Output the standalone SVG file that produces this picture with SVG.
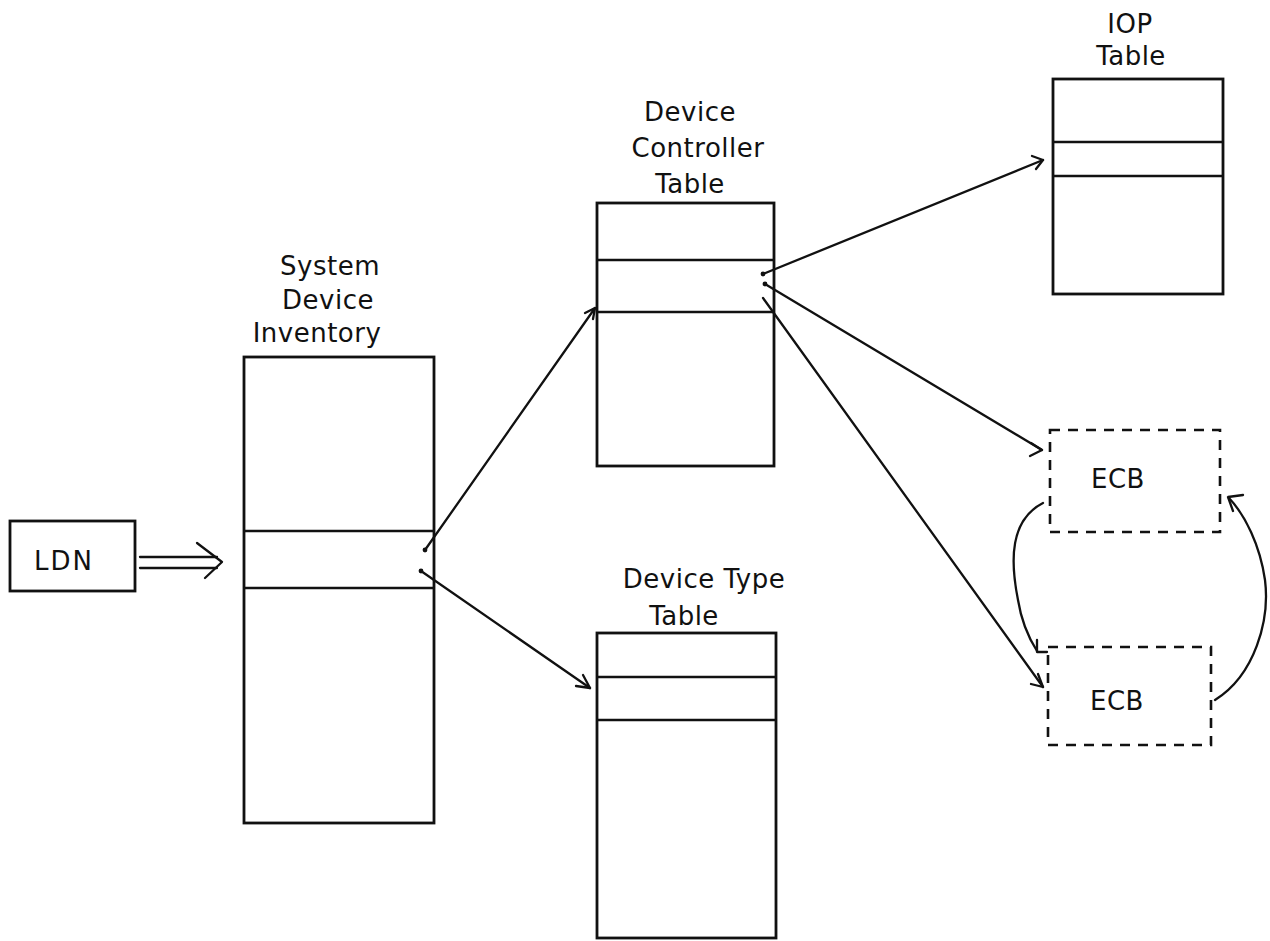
<svg xmlns="http://www.w3.org/2000/svg" width="1270" height="941" viewBox="0 0 1270 941">
  <style>
    .box { fill: none; stroke: #111; stroke-width: 2.8; }
    .row { fill: none; stroke: #111; stroke-width: 2.4; }
    .dash { fill: none; stroke: #111; stroke-width: 2.6; stroke-dasharray: 10 8; }
    .lbl { font-family: "DejaVu Sans", "Liberation Sans", sans-serif; font-size: 26px; fill: #111; text-anchor: middle; letter-spacing: 0.5px; }
    .ln { fill: none; stroke: #111; stroke-width: 2.3; stroke-linecap: round; stroke-linejoin: round; }
    .dot { fill: #111; }
  </style>
  <rect width="1270" height="941" fill="#fff"/>

  <!-- Logical device number -->
  <g id="ldn">
    <rect class="box" x="10" y="521" width="125" height="70"/>
    <text class="lbl" x="64" y="570" style="letter-spacing:2px">LDN</text>
  </g>

  <!-- System Device Inventory -->
  <g id="sdi">
    <text class="lbl" x="330" y="275">System</text>
    <text class="lbl" x="328" y="309">Device</text>
    <text class="lbl" x="317" y="342">Inventory</text>
    <rect class="box" x="244" y="357" width="190" height="466"/>
    <line class="row" x1="244" y1="531" x2="434" y2="531"/>
    <line class="row" x1="244" y1="588" x2="434" y2="588"/>
  </g>

  <!-- Device Controller Table -->
  <g id="dct">
    <text class="lbl" x="690" y="121">Device</text>
    <text class="lbl" x="698" y="157">Controller</text>
    <text class="lbl" x="690" y="193">Table</text>
    <rect class="box" x="597" y="203" width="177" height="263"/>
    <line class="row" x1="597" y1="260" x2="774" y2="260"/>
    <line class="row" x1="597" y1="312" x2="774" y2="312"/>
  </g>

  <!-- Device Type Table -->
  <g id="dtt">
    <text class="lbl" x="704" y="588">Device Type</text>
    <text class="lbl" x="684" y="625">Table</text>
    <rect class="box" x="597" y="633" width="179" height="305"/>
    <line class="row" x1="597" y1="677" x2="776" y2="677"/>
    <line class="row" x1="597" y1="720" x2="776" y2="720"/>
  </g>

  <!-- IOP Table -->
  <g id="iop">
    <text class="lbl" x="1130" y="33">IOP</text>
    <text class="lbl" x="1131" y="65">Table</text>
    <rect class="box" x="1053" y="79" width="170" height="215"/>
    <line class="row" x1="1053" y1="142" x2="1223" y2="142"/>
    <line class="row" x1="1053" y1="176" x2="1223" y2="176"/>
  </g>

  <!-- Event control blocks -->
  <g id="ecb1">
    <rect class="dash" x="1050" y="430" width="170" height="102"/>
    <text class="lbl" x="1118" y="488">ECB</text>
  </g>
  <g id="ecb2">
    <rect class="dash" x="1048" y="647" width="163" height="98"/>
    <text class="lbl" x="1117" y="710">ECB</text>
  </g>

  <!-- Pointers between tables -->
  <g id="connectors">
    <!-- LDN to inventory: double-shafted arrow -->
    <line class="ln" x1="140" y1="557" x2="217" y2="557"/>
    <line class="ln" x1="140" y1="568" x2="217" y2="568"/>
    <polyline class="ln" points="197,543 222,562 205,578"/>

    <!-- inventory entry to controller table -->
    <circle class="dot" cx="425" cy="550" r="2.4"/>
    <line class="ln" x1="425" y1="550" x2="595" y2="308"/>
    <polyline class="ln" points="585,313 595,308 593,319"/>

    <!-- inventory entry to device type table -->
    <circle class="dot" cx="421" cy="571" r="2.4"/>
    <line class="ln" x1="421" y1="571" x2="590" y2="688"/>
    <polyline class="ln" points="576,686 590,688 583,675"/>

    <!-- controller entry to IOP table -->
    <circle class="dot" cx="763" cy="274" r="2.4"/>
    <line class="ln" x1="763" y1="274" x2="1043" y2="160"/>
    <polyline class="ln" points="1032,156 1043,160 1036,169"/>

    <!-- controller entry to first ECB -->
    <circle class="dot" cx="765" cy="284" r="2.4"/>
    <line class="ln" x1="765" y1="284" x2="1042" y2="450"/>
    <polyline class="ln" points="1031,443 1042,450 1030,456"/>

    <!-- controller entry to second ECB -->
    <line class="ln" x1="763" y1="298" x2="1043" y2="687"/>
    <polyline class="ln" points="1038,674 1043,687 1031,684"/>

    <!-- ECB chain: forward link -->
    <path class="ln" d="M1043,503 C1010,520 1010,560 1018,600 C1022,625 1030,640 1037,651"/>
    <polyline class="ln" points="1037,640 1037,652 1047,652"/>

    <!-- ECB chain: back link -->
    <path class="ln" d="M1215,700 C1255,675 1270,620 1265,580 C1260,545 1245,515 1229,498"/>
    <polyline class="ln" points="1233,511 1228,497 1243,495"/>
  </g>
</svg>
